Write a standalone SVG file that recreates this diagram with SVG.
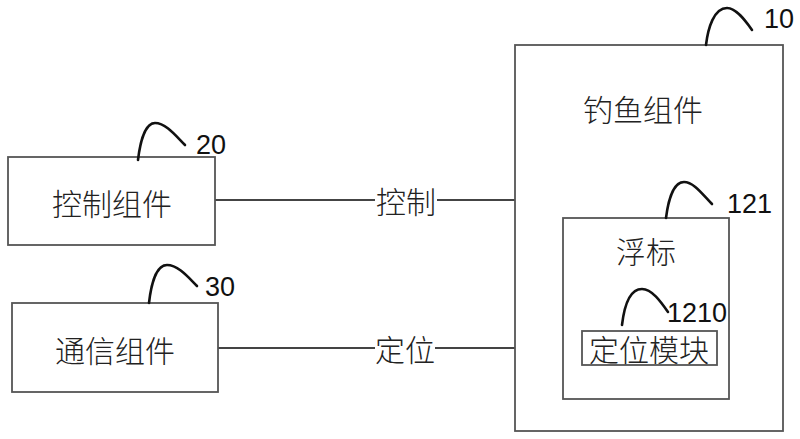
<svg xmlns="http://www.w3.org/2000/svg" width="800" height="439" viewBox="0 0 800 439">
<style>
.box{fill:#fff;stroke:#555;stroke-width:1.8}
.ln{fill:none;stroke:#444;stroke-width:1.8}
.ld{fill:none;stroke:#111;stroke-width:2.6;stroke-linecap:round}
.t{font-family:"Noto Sans CJK SC","Noto Sans CJK JP",sans-serif;font-size:30px;font-weight:300;fill:#222;text-anchor:middle;dominant-baseline:central}
.n{font-family:"Liberation Sans","DejaVu Sans",sans-serif;font-size:27px;fill:#111}
</style>
<rect width="800" height="439" fill="#fff"/>
<g id="connectors">
<path class="ln" d="M215 200 H375 M437 200 H515"/>
<path class="ln" d="M218 348 H375 M435 348 H582"/>
<text class="t" x="406" y="200">控制</text>
<text class="t" x="405" y="348">定位</text>
</g>
<g id="node10">
<rect class="box" x="515" y="45" width="268" height="386"/>
<text class="t" x="643" y="108">钓鱼组件</text>
<path class="ld" d="M706 45 C708 28 714 8 727 8 C736 8 745 20 752 30"/>
<text class="n" x="764" y="28">10</text>
</g>
<g id="node121">
<rect class="box" x="563" y="218" width="166" height="181"/>
<text class="t" x="646" y="250">浮标</text>
<path class="ld" d="M666 218 C668 202 673 182 684 182 C694 182 703 195 712 204"/>
<text class="n" x="727" y="213">121</text>
</g>
<g id="node1210">
<rect class="box" x="582" y="331" width="135" height="34"/>
<text class="t" x="649" y="348">定位模块</text>
<path class="ld" d="M622 325 C624 308 629 289 642 289 C652 289 661 302 668 312"/>
<text class="n" x="667" y="322">1210</text>
</g>
<g id="node20">
<rect class="box" x="8" y="157" width="207" height="88"/>
<text class="t" x="112" y="202">控制组件</text>
<path class="ld" d="M138 160 C140 143 145 123 155 123 C166 123 176 136 185 145"/>
<text class="n" x="196" y="154">20</text>
</g>
<g id="node30">
<rect class="box" x="12" y="303" width="206" height="89"/>
<text class="t" x="115" y="349">通信组件</text>
<path class="ld" d="M149 303 C151 285 156 265 167 265 C178 265 188 277 197 286"/>
<text class="n" x="205" y="296">30</text>
</g>
</svg>
